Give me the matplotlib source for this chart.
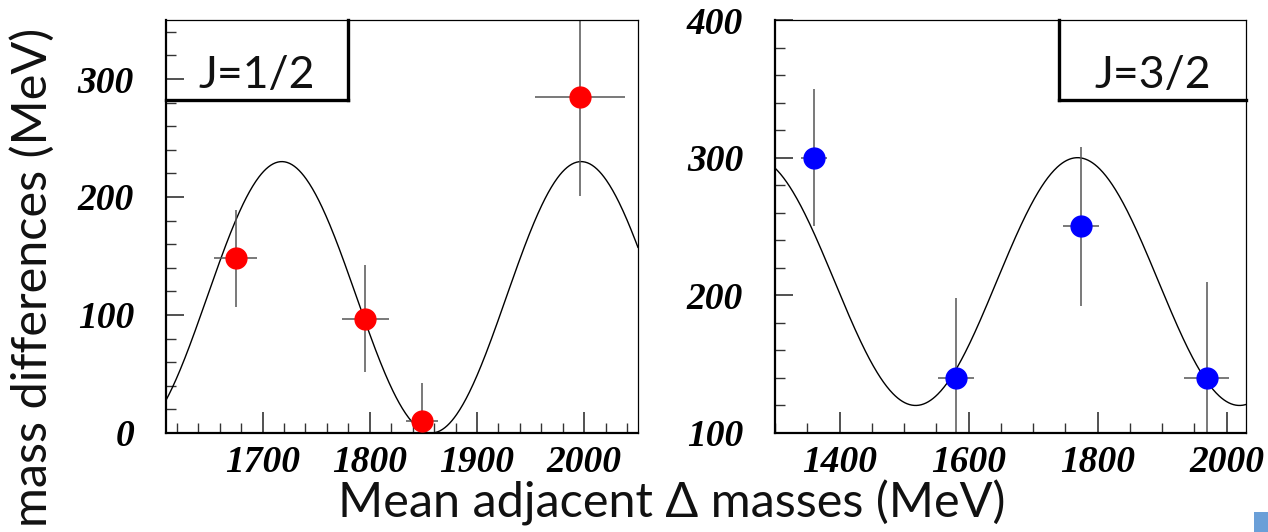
import numpy as np
import matplotlib.pyplot as plt
from matplotlib.ticker import MultipleLocator
from matplotlib.patches import Rectangle

plt.rcParams['font.family'] = 'Liberation Serif'
plt.rcParams['font.weight'] = 'bold'
plt.rcParams['font.style'] = 'italic'

# J=1/2 points (MeV)
x_half = [1675, 1796, 1849, 1996]
y_half = [148, 97, 10, 285]
xerr_half = [20, 22, 15, 42]
yerr_half = [41, 45, 32, 84]
# fit curve: offset, amplitude, period, position of maximum
fit_half = [115, 115, 279, 1718]

# J=3/2 points (MeV)
x_three = [1360, 1580, 1775, 1969]
y_three = [300, 140, 250, 140]
xerr_three = [20, 28, 28, 35]
yerr_three = [50, 58, 58, 70]
fit_three = [210, 90, 502, 1769]

label_font = dict(family='Lato', weight='normal', style='normal', color='#111111')

fig = plt.figure(figsize=(12.68, 5.32), dpi=100)


def panel(rect, xs, ys, xe, ye, fit, color, xlim, ylim, xmajor, xminor, text, box_left):
    ax = fig.add_axes(rect)
    ax.set_xlim(xlim)
    ax.set_ylim(ylim)

    xx = np.linspace(xlim[0], xlim[1], 600)
    off, amp, per, peak = fit
    ax.plot(xx, off + amp * np.cos(2 * np.pi * (xx - peak) / per), color='k', lw=1.0)

    ax.errorbar(xs, ys, xerr=xe, yerr=ye, fmt='none', ecolor='#555555', elinewidth=1.1, capsize=0)
    ax.plot(xs, ys, 'o', color=color, ms=15, mec=color, zorder=5)

    ax.xaxis.set_major_locator(MultipleLocator(xmajor))
    ax.xaxis.set_minor_locator(MultipleLocator(xminor))
    ax.yaxis.set_major_locator(MultipleLocator(100))
    ax.yaxis.set_minor_locator(MultipleLocator(20))
    ax.tick_params(axis='x', which='major', direction='in', length=15, width=1.2, pad=9, labelsize=27)
    ax.tick_params(axis='x', which='minor', direction='in', length=7.5, width=1.0)
    ax.tick_params(axis='y', which='major', direction='in', length=13, width=1.2, pad=23, labelsize=27)
    ax.tick_params(axis='y', which='minor', direction='in', length=7, width=1.0)
    ax.tick_params(which='both', color='#333333')

    for s in ['left', 'bottom']:
        ax.spines[s].set_linewidth(1.6)
    for s in ['top', 'right']:
        ax.spines[s].set_linewidth(0.9)

    # label box with shadow edges
    by = 0.806
    if box_left:
        bx = 0.386
        ax.plot([bx, bx], [by, 1], transform=ax.transAxes, color='k', lw=2.4, clip_on=False)
        ax.plot([0, bx], [by, by], transform=ax.transAxes, color='k', lw=2.4, clip_on=False)
        tx = bx / 2
    else:
        bx = 0.603
        ax.plot([bx, bx], [by, 1], transform=ax.transAxes, color='k', lw=2.4, clip_on=False)
        ax.plot([bx, 1], [by, by], transform=ax.transAxes, color='k', lw=2.4, clip_on=False)
        tx = (bx + 1) / 2
    ax.text(tx, 0.835, text, transform=ax.transAxes, ha='center', va='baseline',
            fontsize=32, **label_font)
    return ax


panel([0.1309, 0.1861, 0.3722, 0.7763], x_half, y_half, xerr_half, yerr_half, fit_half,
      '#ff0000', (1610, 2050), (0, 350), 100, 20, 'J=1/2', True)
panel([0.6112, 0.1861, 0.3714, 0.7763], x_three, y_three, xerr_three, yerr_three, fit_three,
      '#0000ff', (1300, 2030), (100, 400), 200, 50, 'J=3/2', False)

fig.text(0.530, 0.028, 'Mean adjacent \u0394 masses (MeV)', ha='center', va='baseline',
         fontsize=35, **label_font)
fig.text(0.026, 0.478, 'mass differences (MeV)', ha='center', va='center', rotation=90,
         fontsize=35, **label_font)

# small blue corner mark
fig.patches.append(Rectangle((1254 / 1268, 0), 14 / 1268, 20 / 532, transform=fig.transFigure,
                             facecolor='#6a9fd8', edgecolor='none'))

fig.savefig('out.png', dpi=100)
